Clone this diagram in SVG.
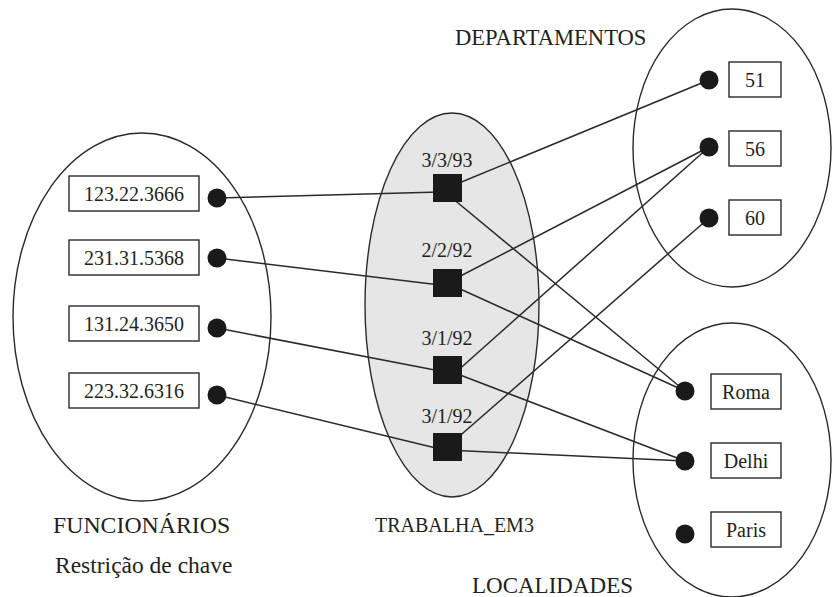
<svg xmlns="http://www.w3.org/2000/svg" width="833" height="597" viewBox="0 0 833 597">
<style>
.set{fill:none;stroke:#2a2a2a;stroke-width:1.4}
.rel{fill:#e6e6e6;stroke:#2a2a2a;stroke-width:1.4}
.box{fill:#fff;stroke:#2a2a2a;stroke-width:1.4}
.dot{fill:#1a1a1a}
.sq{fill:#1a1a1a}
.t{font-family:"Liberation Serif","Times New Roman",serif;font-size:20px;fill:#231f20;text-anchor:middle}
.lbl{font-family:"Liberation Serif","Times New Roman",serif;font-size:23px;fill:#231f20}
.conn line{stroke:#2a2a2a;stroke-width:1.5}
</style>
<rect width="833" height="597" fill="#fff"/>
<g id="set-funcionarios">
<ellipse class="set" cx="142" cy="317" rx="129" ry="184"/>
</g>
<g id="set-trabalha">
<ellipse class="rel" cx="452" cy="305" rx="87" ry="192"/>
</g>
<g id="set-departamentos">
<ellipse class="set" cx="732" cy="148" rx="99" ry="139"/>
</g>
<g id="set-localidades">
<ellipse class="set" cx="732" cy="460" rx="99" ry="137"/>
</g>
<g id="connectors" class="conn">
<line x1="217" y1="198" x2="440" y2="192"/>
<line x1="217" y1="258" x2="440" y2="285"/>
<line x1="217" y1="328" x2="440" y2="371"/>
<line x1="217" y1="395" x2="440" y2="449"/>
<line x1="447" y1="188" x2="709" y2="80"/>
<line x1="440" y1="188" x2="685" y2="391"/>
<line x1="447" y1="283" x2="709" y2="147"/>
<line x1="447" y1="283" x2="685" y2="391"/>
<line x1="455" y1="373" x2="709" y2="147"/>
<line x1="447" y1="370" x2="685" y2="461"/>
<line x1="447" y1="447" x2="709" y2="218"/>
<line x1="447" y1="450" x2="685" y2="461"/>
</g>
<g id="f1"><rect class="box" x="69" y="176" width="130" height="35"/><text class="t" x="134" y="201">123.22.3666</text><circle class="dot" cx="217" cy="198" r="9.5"/></g>
<g id="f2"><rect class="box" x="69" y="240" width="130" height="35"/><text class="t" x="134" y="265">231.31.5368</text><circle class="dot" cx="217" cy="258" r="9.5"/></g>
<g id="f3"><rect class="box" x="69" y="306" width="130" height="35"/><text class="t" x="134" y="331">131.24.3650</text><circle class="dot" cx="217" cy="328" r="9.5"/></g>
<g id="f4"><rect class="box" x="69" y="373" width="130" height="35"/><text class="t" x="134" y="398">223.32.6316</text><circle class="dot" cx="217" cy="395" r="9.5"/></g>
<g id="r1"><text class="t" x="447" y="167">3/3/93</text><rect class="sq" x="433" y="174" width="29" height="28"/></g>
<g id="r2"><text class="t" x="447" y="257">2/2/92</text><rect class="sq" x="433" y="269" width="29" height="28"/></g>
<g id="r3"><text class="t" x="447" y="345">3/1/92</text><rect class="sq" x="433" y="356" width="29" height="28"/></g>
<g id="r4"><text class="t" x="447" y="423">3/1/92</text><rect class="sq" x="433" y="433" width="29" height="28"/></g>
<g id="d51"><circle class="dot" cx="709" cy="80" r="9.5"/><rect class="box" x="729" y="62" width="52" height="35"/><text class="t" x="755" y="87">51</text></g>
<g id="d56"><circle class="dot" cx="709" cy="147" r="9.5"/><rect class="box" x="729" y="131" width="52" height="35"/><text class="t" x="755" y="156">56</text></g>
<g id="d60"><circle class="dot" cx="709" cy="218" r="9.5"/><rect class="box" x="729" y="200" width="52" height="35"/><text class="t" x="755" y="225">60</text></g>
<g id="lroma"><circle class="dot" cx="685" cy="391" r="9.5"/><rect class="box" x="711" y="374" width="70" height="35"/><text class="t" x="746" y="399">Roma</text></g>
<g id="ldelhi"><circle class="dot" cx="685" cy="461" r="9.5"/><rect class="box" x="711" y="443" width="70" height="35"/><text class="t" x="746" y="468">Delhi</text></g>
<g id="lparis"><circle class="dot" cx="685" cy="534" r="9.5"/><rect class="box" x="711" y="512" width="70" height="35"/><text class="t" x="746" y="537">Paris</text></g>
<g id="labels">
<text class="lbl" x="455" y="45" style="font-size:22.6px">DEPARTAMENTOS</text>
<text class="lbl" x="53" y="533" style="font-size:23.8px">FUNCIONÁRIOS</text>
<text class="lbl" x="55" y="573" style="font-size:23.5px">Restrição de chave</text>
<text class="lbl" x="375" y="532" style="font-size:20px">TRABALHA_EM3</text>
<text class="lbl" x="472" y="593">LOCALIDADES</text>
</g>
</svg>
